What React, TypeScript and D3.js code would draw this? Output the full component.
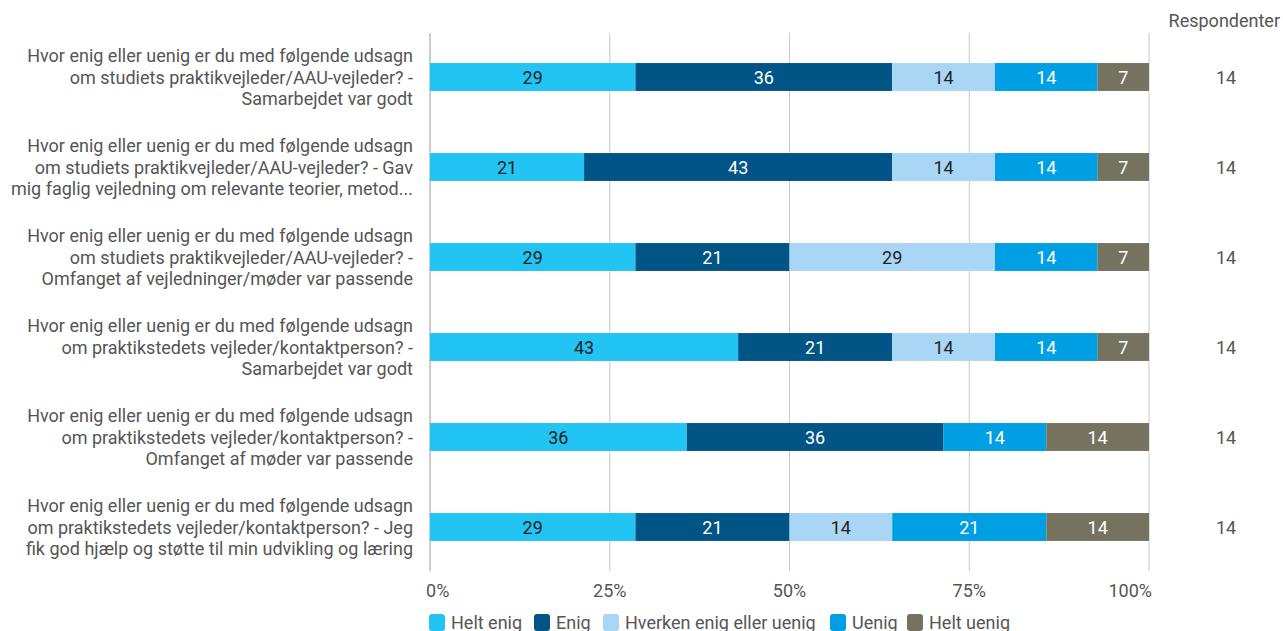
import React from "react";
import * as d3 from "d3";

const questions: string[][] = [
  ["Hvor enig eller uenig er du med følgende udsagn", "om studiets praktikvejleder/AAU-vejleder? -", "Samarbejdet var godt"],
  ["Hvor enig eller uenig er du med følgende udsagn", "om studiets praktikvejleder/AAU-vejleder? - Gav", "mig faglig vejledning om relevante teorier, metod..."],
  ["Hvor enig eller uenig er du med følgende udsagn", "om studiets praktikvejleder/AAU-vejleder? -", "Omfanget af vejledninger/møder var passende"],
  ["Hvor enig eller uenig er du med følgende udsagn", "om praktikstedets vejleder/kontaktperson? -", "Samarbejdet var godt"],
  ["Hvor enig eller uenig er du med følgende udsagn", "om praktikstedets vejleder/kontaktperson? -", "Omfanget af møder var passende"],
  ["Hvor enig eller uenig er du med følgende udsagn", "om praktikstedets vejleder/kontaktperson? - Jeg", "fik god hjælp og støtte til min udvikling og læring"],
];

const seriesNames = ["Helt enig", "Enig", "Hverken enig eller uenig", "Uenig", "Helt uenig"];
const seriesColors = ["#21C4F3", "#005486", "#A9D6F5", "#009FE3", "#75735F"];
const labelColors = ["#222222", "#ffffff", "#222222", "#ffffff", "#ffffff"];

const heltEnig = [28.57, 21.43, 28.57, 42.86, 35.71, 28.57];
const enig = [35.71, 42.86, 21.43, 21.43, 35.71, 21.43];
const hverken = [14.29, 14.29, 28.57, 14.29, 0, 14.29];
const uenig = [14.29, 14.29, 14.29, 14.29, 14.29, 21.43];
const heltUenig = [7.14, 7.14, 7.14, 7.14, 14.29, 14.29];
const respondents = [14, 14, 14, 14, 14, 14];
const tickValues = [0, 25, 50, 75, 100];

const series = [heltEnig, enig, hverken, uenig, heltUenig];

export default function App() {
  const W = 1283, H = 631;
  const x = d3.scaleLinear().domain([0, 100]).range([430, 1149]);
  const y = d3.scaleBand<number>().domain(d3.range(questions.length)).range([32, 572]).paddingInner(0.69).paddingOuter(0.345);
  const font = "Roboto, sans-serif";
  const fs = 18;
  return (
    <svg width={W} height={H} style={{ position: "absolute", left: 0, top: 0 }} fontFamily={font}>
      {tickValues.map((t) => (
        <g key={t}>
          <line x1={x(t)} x2={x(t)} y1={33} y2={571} stroke={t === 0 ? "#9a9a9a" : "#c8c8c8"} strokeWidth={1} />
          <text x={t === 0 ? x(t) - 4 : t === 100 ? x(t) + 3 : x(t)} y={597} textAnchor={t === 0 ? "start" : t === 100 ? "end" : "middle"} fontSize={fs} fill="#555">{t}%</text>
        </g>
      ))}
      {questions.map((q, i) => {
        const cy = (y(i) as number) + y.bandwidth() / 2;
        let acc = 0;
        return (
          <g key={i}>
            <text textAnchor="end" fontSize={fs} fill="#555">
              {q.map((l, j) => (
                <tspan key={j} x={413} y={cy + (j - 1) * 21.5 + 6.5}>{l}</tspan>
              ))}
            </text>
            {series.map((s, k) => {
              const v = s[i];
              const x0 = acc;
              acc += v;
              if (v <= 0) return null;
              return (
                <g key={k}>
                  <rect x={x(x0)} y={y(i)} width={x(x0 + v) - x(x0)} height={y.bandwidth()} fill={seriesColors[k]} />
                  <text x={(x(x0) + x(x0 + v)) / 2} y={cy + 6.5} textAnchor="middle" fontSize={fs} fill={labelColors[k]}>{Math.round(v)}</text>
                </g>
              );
            })}
            <text x={1226} y={cy + 6.5} textAnchor="middle" fontSize={fs} fill="#555">{respondents[i]}</text>
          </g>
        );
      })}
      <text x={1280} y={27} textAnchor="end" fontSize={fs} fill="#555">Respondenter</text>
      {(() => {
        const starts = [429, 534, 603, 830, 907];
        return seriesNames.map((n, k) => (
          <g key={n}>
            <rect x={starts[k]} y={614} width={16} height={17} rx={3} fill={seriesColors[k]} />
            <text x={starts[k] + 22} y={629} fontSize={fs} fill="#555">{n}</text>
          </g>
        ));
      })()}
    </svg>
  );
}
